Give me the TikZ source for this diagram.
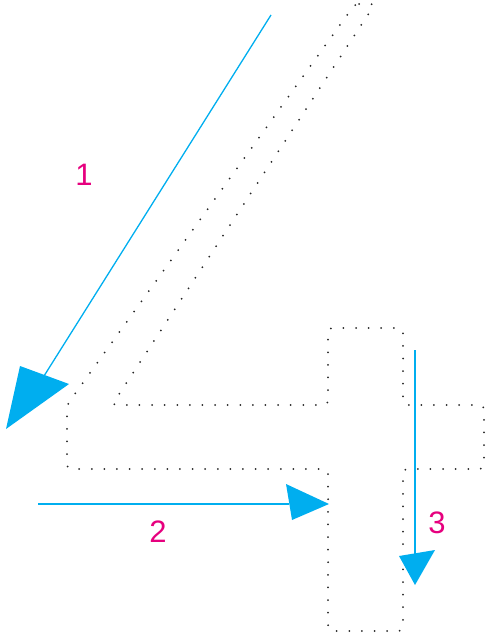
\documentclass[tikz,border=0pt]{standalone}
\usepackage{fontspec}
\setmainfont{Liberation Sans}
\definecolor{arrowcyan}{RGB}{0,174,239}
\definecolor{labelmag}{RGB}{230,0,126}
\tikzset{
  outline/.style={draw=black!85, line width=2pt, line cap=round, dash pattern=on 0pt off 12.6pt, rounded corners=4pt},
  arr/.style={draw=arrowcyan, line width=1.3pt},
  head/.style={fill=arrowcyan, draw=none},
  lbl/.style={text=labelmag, font=\fontsize{31}{31}\selectfont, inner sep=0pt}
}
\begin{document}
\begin{tikzpicture}[x=1pt,y=-1pt]
\useasboundingbox (0,0) rectangle (488,640);
% dotted outline of the "4"
\draw[outline] (355,4) -- (375,4) -- (112,405) -- (328,405) -- (328,328) -- (403,328) -- (403,405)
  -- (484,405) -- (484,469) -- (403,469) -- (403,631) -- (328,631) -- (328,469) -- (67,469)
  -- (67,405) -- cycle;
% arrow 1
\coordinate (a1s) at (271,15);
\coordinate (a1b) at (44,376);
\coordinate (a1l) at (20,366);
\coordinate (a1r) at (69,384);
\coordinate (a1e) at (6,429);
\draw[arr] (a1s) -- (a1b);
\fill[head] (a1l) -- (a1r) -- (a1e) -- cycle;
% arrow 2
\coordinate (a2s) at (38,504);
\coordinate (a2b) at (289,504);
\coordinate (a2l) at (286,484);
\coordinate (a2r) at (292,520);
\coordinate (a2e) at (329,504);
\draw[arr] (a2s) -- (a2b);
\fill[head] (a2l) -- (a2e) -- (a2r) -- cycle;
% arrow 3
\coordinate (a3s) at (415,350);
\coordinate (a3b) at (415,555);
\coordinate (a3l) at (399,556);
\coordinate (a3r) at (435,550);
\coordinate (a3e) at (415,585);
\draw[arr] (a3s) -- (a3b);
\fill[head] (a3l) -- (a3r) -- (a3e) -- cycle;
% labels
\node[lbl] (l1) at (84,175) {1};
\node[lbl] (l2) at (158,532) {2};
\node[lbl] (l3) at (437,523) {3};
\end{tikzpicture}
\end{document}
